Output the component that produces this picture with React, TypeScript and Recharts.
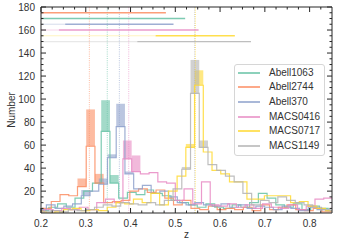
import React from "react";
import {
  ComposedChart,
  Line,
  XAxis,
  YAxis,
  ReferenceLine,
  ReferenceArea,
  Legend,
} from "recharts";

const FONT = "'Liberation Sans', Arial, sans-serif";
const INK = "#262626";

const clusterNames = ["Abell1063", "Abell2744", "Abell370", "MACS0416", "MACS0717", "MACS1149"];
const clusterColors = ["#66c2a5", "#fc8d62", "#8da0cb", "#e78ac3", "#ffd92f", "#b3b3b3"];
const clusterZ = [0.348, 0.308, 0.375, 0.396, 0.545, 0.543];

// left edge of the first bin of each histogram, every bin has the same width
const binStart = [0.198, 0.184, 0.1925, 0.188, 0.192, 0.183];
const binWidth = 0.0195;

const countsA1063 = [3, 6, 9, 6, 14, 20, 27, 72, 27, 14, 19, 17, 21, 18, 16, 12, 10, 8, 6, 9, 6, 5, 8, 6, 10, 18, 14, 8, 6, 9, 4, 7, 5, 3];
const countsA2744 = [2, 5, 11, 17, 16, 24, 59, 27, 10, 11, 12, 20, 22, 19, 21, 14, 8, 12, 5, 4, 7, 4, 5, 4, 6, 3, 8, 4, 6, 8, 4, 3, 5, 2, 3];
const countsA370 = [4, 8, 5, 7, 9, 16, 20, 26, 49, 76, 35, 22, 25, 18, 20, 15, 10, 8, 10, 8, 7, 9, 6, 8, 5, 7, 6, 4, 7, 5, 3, 6, 4, 3];
const countsM0416 = [2, 4, 3, 5, 4, 6, 4, 10, 13, 10, 48, 37, 35, 36, 28, 27, 12, 22, 9, 28, 8, 7, 9, 6, 8, 5, 9, 6, 5, 8, 4, 7, 13, 14, 5];
const countsM0717 = [2, 1, 2, 4, 5, 3, 4, 3, 6, 10, 9, 13, 10, 18, 8, 20, 33, 58, 112, 54, 38, 35, 28, 28, 13, 13, 16, 16, 16, 10, 11, 7, 5, 3];
const countsM1149 = [1, 2, 3, 2, 4, 3, 4, 6, 8, 7, 10, 9, 8, 10, 8, 12, 22, 39, 105, 58, 43, 38, 33, 28, 18, 8, 12, 10, 15, 12, 10, 8, 6, 4, 3];
const histCounts = [countsA1063, countsA2744, countsA370, countsM0416, countsM0717, countsM1149];

// shaded bins: [bin index, upper value] (lower value = histogram count)
const bandsA1063 = [[7, 99], [8, 34]];
const bandsA2744 = [[5, 31], [6, 91], [7, 35]];
const bandsA370 = [[5, 21], [7, 31], [8, 52], [9, 96], [10, 37]];
const bandsM0416 = [[10, 64], [11, 51]];
const bandsM0717 = [[17, 61], [18, 125]];
const bandsM1149 = [[17, 41], [18, 134], [19, 64]];
const histBands = [bandsA1063, bandsA2744, bandsA370, bandsM0416, bandsM0717, bandsM1149];

// redshift ranges drawn as horizontal bars near the top
const rangeLevel = [170, 175, 165, 160, 155, 150];
const rangeLo = [0.2, 0.2, 0.254, 0.24, 0.456, 0.415];
const rangeHi = [0.522, 0.479, 0.496, 0.552, 0.633, 0.669];

const xMajor = [0.2, 0.3, 0.4, 0.5, 0.6, 0.7, 0.8];
const xTicks = [0.2, 0.225, 0.25, 0.275, 0.3, 0.325, 0.35, 0.375, 0.4, 0.425, 0.45, 0.475, 0.5, 0.525, 0.55, 0.575, 0.6, 0.625, 0.65, 0.675, 0.7, 0.725, 0.75, 0.775, 0.8, 0.825];
const yMajor = [20, 40, 60, 80, 100, 120, 140, 160, 180];
const yTicks = [5, 10, 15, 20, 25, 30, 35, 40, 45, 50, 55, 60, 65, 70, 75, 80, 85, 90, 95, 100, 105, 110, 115, 120, 125, 130, 135, 140, 145, 150, 155, 160, 165, 170, 175, 180];

const stepData = (start: number, counts: number[]) => {
  const pts = [{ z: start, n: 0 }];
  counts.forEach((c, i) => pts.push({ z: start + i * binWidth, n: c }));
  const end = start + counts.length * binWidth;
  pts.push({ z: end, n: counts[counts.length - 1] }, { z: end, n: 0 });
  return pts;
};

type TickProps = {
  x?: number;
  y?: number;
  payload?: { value: number };
  side: "bottom" | "top" | "left" | "right";
  majors: number[];
  showLabel?: boolean;
};

const AxisTick = ({ x = 0, y = 0, payload, side, majors, showLabel }: TickProps) => {
  const v = payload ? payload.value : 0;
  const isMajor = majors.some((m) => Math.abs(m - v) < 1e-6);
  const len = isMajor ? 5 : 2.5;
  let seg = { x1: x, x2: x, y1: y, y2: y };
  if (side === "bottom") seg = { x1: x, x2: x, y1: y, y2: y - len };
  if (side === "top") seg = { x1: x, x2: x, y1: y, y2: y + len };
  if (side === "left") seg = { x1: x, x2: x + len, y1: y, y2: y };
  if (side === "right") seg = { x1: x, x2: x - len, y1: y, y2: y };
  return (
    <g>
      <line {...seg} stroke={INK} strokeWidth={1} />
      {showLabel && isMajor && side === "bottom" && (
        <text x={x} y={y + 14} textAnchor="middle" fontSize={10} fontFamily={FONT} fill="#333">
          {v.toFixed(1)}
        </text>
      )}
      {showLabel && isMajor && side === "left" && (
        <text x={x - 6} y={y + 3.6} textAnchor="end" fontSize={10} fontFamily={FONT} fill="#333">
          {v}
        </text>
      )}
    </g>
  );
};

const AxisTitle = ({ caption, posX, posY, turned }: { caption: string; posX: number; posY: number; turned?: boolean }) => (
  <text
    transform={`translate(${posX},${posY})${turned ? " rotate(-90)" : ""}`}
    textAnchor="middle"
    fontSize={10}
    fontFamily={FONT}
    fill="#333"
  >
    {caption}
  </text>
);

const LegendBox = () => (
  <div
    style={{
      width: 89,
      border: "1px solid #d6d6d6",
      borderRadius: 3,
      background: "rgba(255,255,255,0.85)",
      padding: "0.5px 0 1.6px 0",
      fontFamily: FONT,
      fontSize: 10,
      color: "#333",
    }}
  >
    {clusterNames.map((name, i) => (
      <div key={name} style={{ display: "flex", alignItems: "center", height: 14.65 }}>
        <svg width={22} height={4} style={{ marginLeft: 3, display: "block" }}>
          <line x1={0} x2={22} y1={2} y2={2} stroke={clusterColors[i]} strokeWidth={1.5} />
        </svg>
        <span style={{ marginLeft: 9, lineHeight: "14px" }}>{name}</span>
      </div>
    ))}
  </div>
);

export default function App() {
  return (
    <div style={{ position: "absolute", left: 0, top: 0, background: "#fff" }}>
      <ComposedChart width={338} height={243} margin={{ top: 0, right: 0, bottom: 0, left: 0 }}>
        <XAxis
          dataKey="z"
          type="number"
          domain={[0.2, 0.85]}
          allowDataOverflow
          ticks={xTicks}
          interval={0}
          height={30}
          tickSize={0}
          tickMargin={0}
          tickLine={false}
          axisLine={{ stroke: INK, strokeWidth: 1 }}
          tick={<AxisTick side="bottom" majors={xMajor} showLabel />}
          label={<AxisTitle caption="z" posX={186.5} posY={238} />}
        />
        <XAxis
          xAxisId="top"
          orientation="top"
          dataKey="z"
          type="number"
          domain={[0.2, 0.85]}
          allowDataOverflow
          ticks={xTicks}
          interval={0}
          height={7}
          tickSize={0}
          tickMargin={0}
          tickLine={false}
          axisLine={{ stroke: INK, strokeWidth: 1 }}
          tick={<AxisTick side="top" majors={xMajor} />}
        />
        <YAxis
          type="number"
          domain={[1, 180]}
          allowDataOverflow
          ticks={yTicks}
          interval={0}
          width={41}
          tickSize={0}
          tickMargin={0}
          tickLine={false}
          axisLine={{ stroke: INK, strokeWidth: 1 }}
          tick={<AxisTick side="left" majors={yMajor} showLabel />}
          label={<AxisTitle caption="Number" posX={15} posY={110} turned />}
        />
        <YAxis
          yAxisId="right"
          orientation="right"
          type="number"
          domain={[1, 180]}
          allowDataOverflow
          ticks={yTicks}
          interval={0}
          width={6}
          tickSize={0}
          tickMargin={0}
          tickLine={false}
          axisLine={{ stroke: INK, strokeWidth: 1 }}
          tick={<AxisTick side="right" majors={yMajor} />}
        />

        {histBands.map((bands, k) =>
          bands.map(([i, top]) => (
            <ReferenceArea
              key={`band-${k}-${i}`}
              x1={binStart[k] + i * binWidth}
              x2={binStart[k] + (i + 1) * binWidth}
              y1={histCounts[k][i]}
              y2={top}
              fill={clusterColors[k]}
              fillOpacity={0.6}
              stroke="none"
              ifOverflow="hidden"
            />
          ))
        )}

        {clusterZ.map((z, k) => (
          <ReferenceLine
            key={`z-${k}`}
            x={z}
            stroke={clusterColors[k]}
            strokeOpacity={0.6}
            strokeWidth={1}
            strokeDasharray="1 1.2"
          />
        ))}

        {rangeLevel.map((lvl, k) =>
          rangeLo[k] > 0.2 ? (
            <ReferenceLine
              key={`faint-${k}`}
              segment={[{ x: 0.2, y: lvl }, { x: rangeLo[k], y: lvl }]}
              stroke={clusterColors[k]}
              strokeOpacity={0.3}
              strokeWidth={1.2}
              ifOverflow="visible"
            />
          ) : null
        )}
        {rangeLevel.map((lvl, k) => (
          <ReferenceLine
            key={`range-${k}`}
            segment={[{ x: rangeLo[k], y: lvl }, { x: rangeHi[k], y: lvl }]}
            stroke={clusterColors[k]}
            strokeOpacity={0.85}
            strokeWidth={1.3}
            ifOverflow="visible"
          />
        ))}

        {histCounts.map((counts, k) => (
          <Line
            key={clusterNames[k]}
            name={clusterNames[k]}
            data={stepData(binStart[k], counts)}
            dataKey="n"
            type="stepAfter"
            stroke={clusterColors[k]}
            strokeOpacity={0.85}
            strokeWidth={1.2}
            dot={false}
            activeDot={false}
            isAnimationActive={false}
          />
        ))}

        <Legend
          layout="vertical"
          align="center"
          verticalAlign="middle"
          content={() => <LegendBox />}
          wrapperStyle={{ left: 234, top: 64, width: 91, height: 92 }}
        />
      </ComposedChart>
    </div>
  );
}
